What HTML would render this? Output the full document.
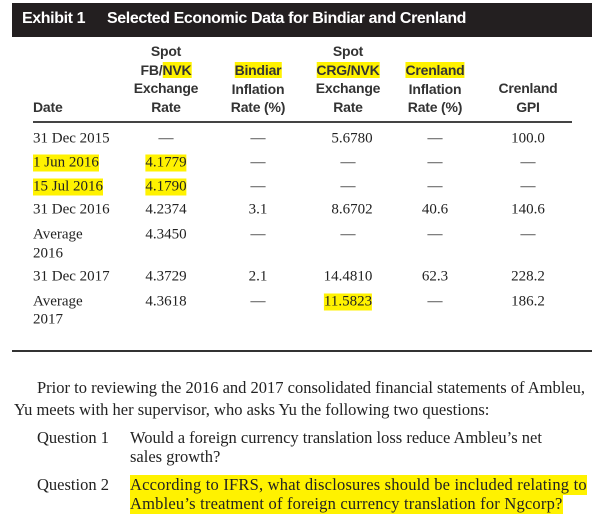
<!DOCTYPE html>
<html><head><meta charset="utf-8">
<style>
body{margin:0;width:603px;height:524px;background:#fff;position:relative;overflow:hidden;font-family:"Liberation Serif",serif;color:#222}
.a{position:absolute;white-space:nowrap}
.bar{position:absolute;left:12px;top:3px;width:580px;height:34px;background:#231f20}
.t{font-family:"Liberation Sans",sans-serif;font-weight:bold;color:#fff;font-size:16px;letter-spacing:-0.4px;top:10px}
.h{font-family:"Liberation Sans",sans-serif;font-weight:bold;font-size:14px;letter-spacing:-0.2px;color:#333;transform:translateX(-50%);text-align:center;line-height:18.5px}
.c{transform:translate(-50%,-50%);font-size:15px}
.l{transform:translateY(-50%);font-size:15px}
.y{background:#fff200}
.p{font-size:16.5px;transform:translateY(-50%)}
</style></head><body>
<div class="bar"></div>
<div class="a t" style="left:22px">Exhibit 1</div>
<div class="a t" style="left:107px">Selected Economic Data for Bindiar and Crenland</div>

<div class="a h" style="left:166px;top:42px">Spot<br><span>FB/</span><span class="y">NVK</span><br>Exchange<br>Rate</div>
<div class="a h" style="left:258px;top:61px"><span class="y">Bindiar</span><br>Inflation<br>Rate (%)</div>
<div class="a h" style="left:348px;top:42px">Spot<br><span class="y">CRG/NVK</span><br>Exchange<br>Rate</div>
<div class="a h" style="left:435px;top:61px"><span class="y">Crenland</span><br>Inflation<br>Rate (%)</div>
<div class="a h" style="left:528px;top:79px">Crenland<br>GPI</div>
<div class="a h" style="left:33px;top:98px;transform:none">Date</div>
<div class="a" style="left:33px;top:121px;width:539px;height:2px;background:#444"></div>

<div class="a l" style="left:33px;top:139px">31 Dec 2015</div>
<div class="a l y" style="left:33px;top:163px">1 Jun 2016</div>
<div class="a l y" style="left:33px;top:187px">15 Jul 2016</div>
<div class="a l" style="left:33px;top:210px">31 Dec 2016</div>
<div class="a l" style="left:33px;top:235px">Average</div>
<div class="a l" style="left:33px;top:254px">2016</div>
<div class="a l" style="left:33px;top:277px">31 Dec 2017</div>
<div class="a l" style="left:33px;top:302px">Average</div>
<div class="a l" style="left:33px;top:320px">2017</div>

<div class="a c" style="left:166px;top:139px">—</div>
<div class="a c y" style="left:166px;top:163px">4.1779</div>
<div class="a c y" style="left:166px;top:187px">4.1790</div>
<div class="a c" style="left:166px;top:210px">4.2374</div>
<div class="a c" style="left:166px;top:235px">4.3450</div>
<div class="a c" style="left:166px;top:277px">4.3729</div>
<div class="a c" style="left:166px;top:302px">4.3618</div>

<div class="a c" style="left:258px;top:139px">—</div>
<div class="a c" style="left:258px;top:163px">—</div>
<div class="a c" style="left:258px;top:187px">—</div>
<div class="a c" style="left:258px;top:210px">3.1</div>
<div class="a c" style="left:258px;top:235px">—</div>
<div class="a c" style="left:258px;top:277px">2.1</div>
<div class="a c" style="left:258px;top:302px">—</div>

<div class="a c" style="left:352px;top:139px">5.6780</div>
<div class="a c" style="left:348px;top:163px">—</div>
<div class="a c" style="left:348px;top:187px">—</div>
<div class="a c" style="left:352px;top:210px">8.6702</div>
<div class="a c" style="left:348px;top:235px">—</div>
<div class="a c" style="left:348px;top:277px">14.4810</div>
<div class="a c y" style="left:348px;top:302px">11.5823</div>

<div class="a c" style="left:435px;top:139px">—</div>
<div class="a c" style="left:435px;top:163px">—</div>
<div class="a c" style="left:435px;top:187px">—</div>
<div class="a c" style="left:435px;top:210px">40.6</div>
<div class="a c" style="left:435px;top:235px">—</div>
<div class="a c" style="left:435px;top:277px">62.3</div>
<div class="a c" style="left:435px;top:302px">—</div>

<div class="a c" style="left:528px;top:139px">100.0</div>
<div class="a c" style="left:528px;top:163px">—</div>
<div class="a c" style="left:528px;top:187px">—</div>
<div class="a c" style="left:528px;top:210px">140.6</div>
<div class="a c" style="left:528px;top:235px">—</div>
<div class="a c" style="left:528px;top:277px">228.2</div>
<div class="a c" style="left:528px;top:302px">186.2</div>

<div class="a" style="left:12px;top:350px;width:580px;height:2px;background:#333"></div>

<div class="a p" style="left:37px;top:388px">Prior to reviewing the 2016 and 2017 consolidated financial statements of Ambleu,</div>
<div class="a p" style="left:14px;top:410px">Yu meets with her supervisor, who asks Yu the following two questions:</div>
<div class="a p" style="left:37px;top:438px">Question 1</div>
<div class="a p" style="left:130px;top:438px">Would a foreign currency translation loss reduce Ambleu’s net</div>
<div class="a p" style="left:130px;top:457px">sales growth?</div>
<div class="a p" style="left:37px;top:485px">Question 2</div>
<div class="a p y" style="left:130px;top:485px;letter-spacing:0.2px">According to IFRS, what disclosures should be included relating to</div>
<div class="a p y" style="left:130px;top:504px;letter-spacing:0.2px">Ambleu’s treatment of foreign currency translation for Ngcorp?</div>
</body></html>
